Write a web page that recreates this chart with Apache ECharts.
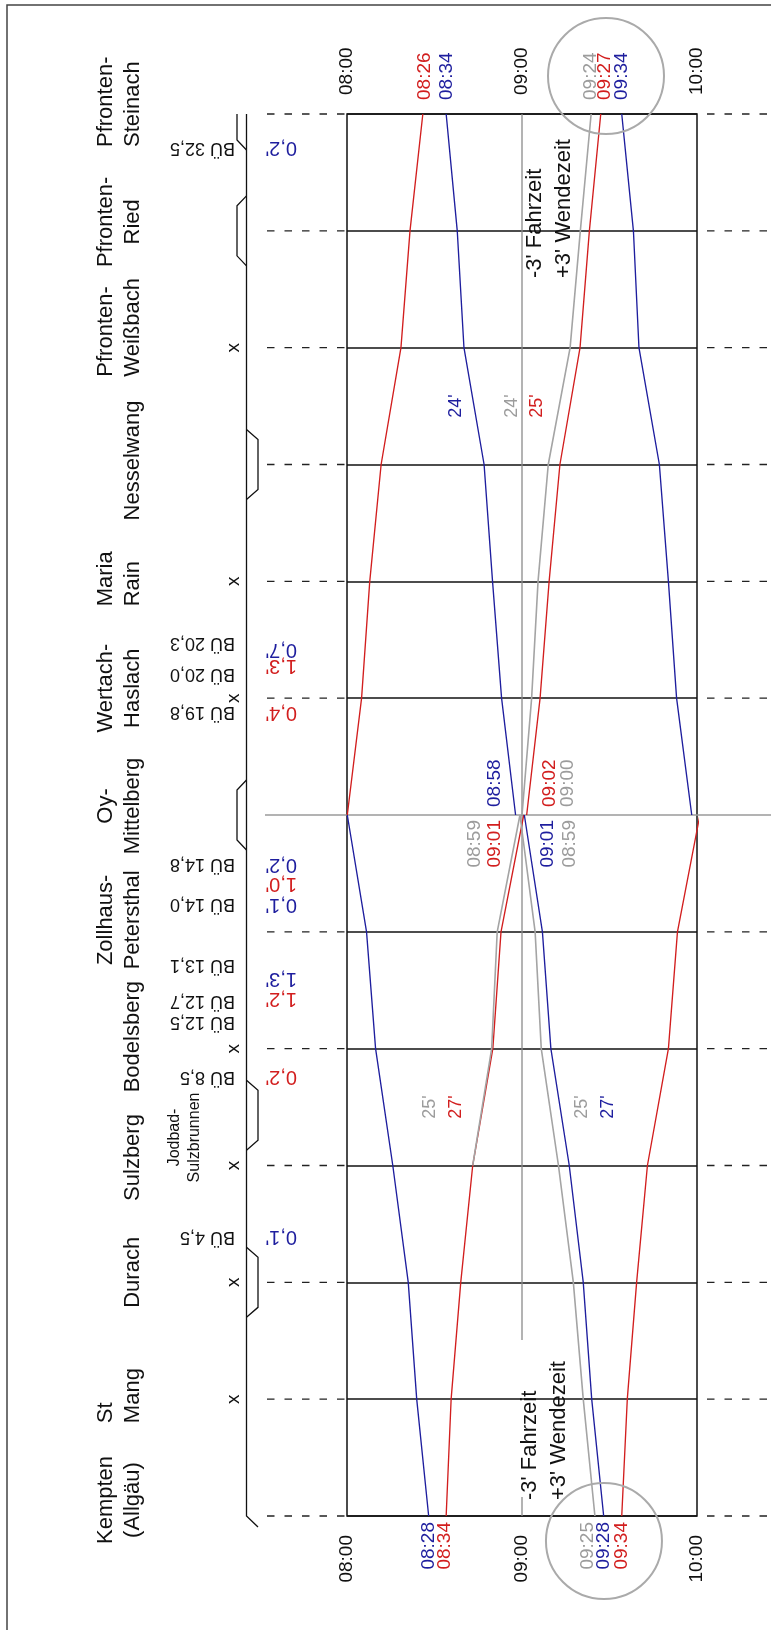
<!DOCTYPE html>
<html><head><meta charset="utf-8">
<script src="https://cdn.jsdelivr.net/npm/echarts@6/dist/echarts.min.js"></script>
<style>html,body{margin:0;padding:0;background:#fff}#c{width:771px;height:1630px}</style>
</head><body><div id="c"></div>
<script>
// ---------------- data ----------------
const stations = ['Kempten (Allgäu)','St Mang','Durach','Sulzberg','Bodelsberg','Zollhaus-Petersthal',
  'Oy-Mittelberg','Wertach-Haslach','Maria Rain','Nesselwang','Pfronten-Weißbach','Pfronten-Ried','Pfronten-Steinach'];
const stationLines = [['Kempten','(Allgäu)'],['St','Mang'],['Durach'],['Sulzberg'],['Bodelsberg'],['Zollhaus-','Petersthal'],
  ['Oy-','Mittelberg'],['Wertach-','Haslach'],['Maria','Rain'],['Nesselwang'],['Pfronten-','Weißbach'],['Pfronten-','Ried'],['Pfronten-','Steinach']];
const timeTicks = [480, 540, 600];            // 08:00 09:00 10:00 (minutes)
// station order of the two halves
const upperStations = [6,7,8,9,10,11,12];     // Oy-Mittelberg ... Pfronten-Steinach
const lowerStations = [6,5,4,3,2,1,0];        // Oy-Mittelberg ... Kempten
// times (minutes after midnight) at each station of the half, in the order above
const redA  = [480.1,485.0,487.8,491.7,498.5,501.6,506.0];
const blueB = [537.8,533.0,529.9,527.0,520.1,517.8,514.0];
const greyU = [540.0,543.3,545.5,549.0,556.5,560.0,563.7];
const redC  = [541.6,546.2,549.3,553.0,559.9,563.1,567.0];
const blueD = [598.2,593.0,590.2,587.1,580.1,578.2,574.2];
const blueE = [480.1,486.7,489.8,495.7,501.0,503.9,508.0];
const redF  = [540.6,532.8,530.0,523.1,519.0,515.7,514.0];
const greyF = [539.3,531.5,529.6,523.1];      // Oy ... Sulzberg
const greyG = [539.3,544.5,546.6,552.5,557.6,561.0,565.0];
const blueG = [540.8,547.0,549.9,556.2,561.0,563.9,568.0];
const redH  = [601.0,593.3,590.2,583.0,579.3,576.1,574.2];
// level crossings (BÜ) : label, station-scale position
const bueLabels = ['BÜ 32,5','BÜ 20,3','BÜ 20,0','BÜ 19,8','BÜ 14,8','BÜ 14,0','BÜ 13,1','BÜ 12,7','BÜ 12,5','BÜ 8,5','BÜ 4,5'];
const buePos    = [11.71,7.47,7.21,6.88,5.58,5.24,4.72,4.41,4.23,3.76,2.39];
const slowLabels = ['0,2\'','0,7\'','1,3\'','0,4\'','0,2\'','1,0\'','0,1\'','1,3\'','1,2\'','0,2\'','0,1\''];
const slowColor  = ['b','b','r','r','b','r','b','b','r','r','b'];
const slowPos    = [11.71,7.42,7.28,6.88,5.58,5.41,5.23,4.60,4.43,3.76,2.39];
const crossStations = [10,8,7,4,3,2,1];       // stations marked with x
const leftLoops = [11,6], rightLoops = [9,3.43,2];

// ---------------- style ----------------
const RED='#d21e1e', BLUE='#1e1e9e', GREY='#a4a4a4', GREYT='#9c9c9c';
const FONT='"Liberation Sans", Arial, Helvetica, sans-serif';
const fmt = v => { const h=Math.floor(v/60), m=Math.round(v%60); return String(h).padStart(2,'0')+':'+String(m).padStart(2,'0'); };

const chart = echarts.init(document.getElementById('c'));
function trainSeries(st, times, color, z, w){
  return {type:'line', data: times.map((t,i)=>[t, st[i]]), symbol:'none', silent:true, z:z,
          lineStyle:{color:color, width:w||1.35}, clip:true, animation:false};
}
const splitColors = stations.map((s,i)=> i===6 ? 'rgba(0,0,0,0)' : '#111');
const xAxisBase = {type:'value', min:480, max:600, interval:60, axisLine:{show:false}, axisTick:{show:false}, splitLine:{show:false}};
chart.setOption({
  animation:false, backgroundColor:'#fff',
  grid:{left:347, right:74, top:114, bottom:114, show:true, borderColor:'#111', borderWidth:1.5, backgroundColor:'rgba(0,0,0,0)'},
  xAxis:[Object.assign({position:'bottom', axisLabel:{rotate:90, margin:19, fontSize:19, color:'#111', fontFamily:FONT, formatter:fmt}}, xAxisBase),
         Object.assign({position:'top', axisLabel:{show:false}}, xAxisBase)],
  yAxis:{type:'value', min:0, max:12, interval:1, axisLine:{show:false}, axisTick:{show:false}, axisLabel:{show:false},
         splitLine:{show:true, lineStyle:{color:splitColors, width:1.5}}},
  series:[
    {type:'line', data:[[540,12],[540,1.506]], symbol:'none', silent:true, z:1, lineStyle:{color:'#8a8a8a', width:1.3}},
    {type:'line', data:[[540,0.163],[540,0]], symbol:'none', silent:true, z:1, lineStyle:{color:'#8a8a8a', width:1.3}},
    trainSeries(upperStations, redA, RED, 3),
    trainSeries(upperStations, blueB, BLUE, 3),
    trainSeries(upperStations, redC, RED, 3),
    trainSeries(upperStations, blueD, BLUE, 3),
    trainSeries(upperStations, greyU, GREY, 4, 1.6),
    trainSeries(lowerStations, blueE, BLUE, 3),
    trainSeries(lowerStations, redF, RED, 3),
    trainSeries(lowerStations, blueG, BLUE, 3),
    trainSeries(lowerStations, redH, RED, 3),
    trainSeries(lowerStations, greyG, GREY, 4, 1.6),
    trainSeries(lowerStations.slice(0,4), greyF, GREY, 4, 1.6)
  ]
});

// ---------------- annotations placed through the axes ----------------
const X = t => chart.convertToPixel({xAxisIndex:0}, t);
const Y = s => chart.convertToPixel({yAxisIndex:0}, s);
const g = [];
function txt(x, y, text, o){
  g.push({type:'text', x:x, y:y, rotation:o.rot||0, silent:true, z:o.z||60,
    style:{text:text, fill:o.color||'#111', font:(o.weight||'normal')+' '+o.size+'px '+FONT,
      align:o.align||'center', verticalAlign:o.va||'middle', textAlign:o.align||'center', textVerticalAlign:o.va||'middle',
      lineHeight:o.lh||o.size*1.2}});
}
function seg(pts, o){
  g.push({type:'polyline', silent:true, z:o.z||5, shape:{points:pts},
    style:{stroke:o.color||'#111', lineWidth:o.w||1.3, fill:null, lineDash:o.dash||null}});
}
const R90 = Math.PI/2, R180 = Math.PI;
const yTop = Y(12), yBot = Y(0);

// top time scale (same ticks as the bottom axis)
timeTicks.forEach(t=> txt(X(t), yTop-19, fmt(t), {size:19, rot:R90, align:'left'}));

// outer frame (top & left)
seg([[7,1630],[7,5],[771,5]], {color:'#444', w:1.5});

// station line extensions
stations.forEach((s,i)=>{
  const y = Y(i);
  if(i===6){ seg([[265,y],[771,y]], {color:'#9a9a9a', w:1.6, z:1}); }
  else {
    seg([[267,y],[345,y]], {color:'#222', w:1.3, dash:[7.5,10]});
    seg([[707,y],[771,y]], {color:'#222', w:1.3, dash:[7.5,10]});
  }
});

// track schematic
const xm = 246.5, xl = 237, xr = 258;
seg([[xm,yTop],[xm,yBot],[xr,yBot+11]], {});
seg([[xl,yTop],[xl,yTop+26],[xm,yTop+36]], {});
leftLoops.forEach(s=>{ const c=Y(s); seg([[xm,c-35],[xl,c-25],[xl,c+25],[xm,c+35]], {}); });
rightLoops.forEach(s=>{ const c=Y(s); seg([[xm,c-35],[xr,c-25],[xr,c+25],[xm,c+35]], {}); });
crossStations.forEach(s=> txt(233.5, Y(s), 'x', {size:19, rot:R90}));

// station names
const nameLayout = [['center',-16],['left',24],['center',-10],['center',-8],['center',-12],['center',-12],
  ['center',-9],['center',-10],['left',25],['center',-4],['left',29],['center',-9],['left',33]];
stationLines.forEach((ls,i)=>{
  txt(145.8, Y(i)+nameLayout[i][1], ls.join('\n'), {size:22, rot:R90, align:nameLayout[i][0], va:'bottom', lh:26.5});
});
txt(204.5, Y(3.24), 'Jodbad-\nSulzbrunnen', {size:16, rot:R90, va:'bottom', lh:20});

// BÜ and slow-down labels (upside down)
bueLabels.forEach((b,i)=> txt(235, Y(buePos[i]), b, {size:18, rot:R180, align:'left'}));
slowLabels.forEach((b,i)=> txt(297, Y(slowPos[i]), b, {size:20, rot:R180, align:'left', color: slowColor[i]==='r'?RED:BLUE}));

// times at the ends
const endTop = [[redA[6],'08:26',RED,2],[blueB[6],'08:34',BLUE,1],[greyU[6],'09:24',GREYT,0],[redC[6],'09:27',RED,4],[blueD[6],'09:34',BLUE,0]];
endTop.forEach(e=> txt(X(e[0])+e[3], yTop-14, e[1], {size:19, rot:R90, align:'left', color:e[2]}));
const endBot = [[blueE[6],'08:28',BLUE,0],[redF[6],'08:34',RED,-1],[greyG[6],'09:25',GREYT,-7],[blueG[6],'09:28',BLUE,0],[redH[6],'09:34',RED,0]];
endBot.forEach(e=> txt(X(e[0])+e[3], yBot+6, e[1], {size:19, rot:R90, align:'right', color:e[2]}));
// times at Oy-Mittelberg
const yOy = Y(6);
[[530.6,'08:58',BLUE],[549.4,'09:02',RED],[555.8,'09:00',GREYT]].forEach(e=> txt(X(e[0]), yOy-8, e[1], {size:19, rot:R90, align:'left', color:e[2]}));
[[523.7,'08:59',GREYT],[530.6,'09:01',RED],[548.7,'09:01',BLUE],[556.3,'08:59',GREYT]].forEach(e=> txt(X(e[0]), yOy+5, e[1], {size:19, rot:R90, align:'right', color:e[2]}));

// running times
[[517.4,9.5,"24'",BLUE],[536.6,9.5,"24'",GREYT],[545.1,9.5,"25'",RED],
 [508.5,3.5,"25'",GREYT],[517.4,3.5,"27'",RED],[560.6,3.5,"25'",GREYT],[569.5,3.5,"27'",BLUE]]
 .forEach(e=> txt(X(e[0]), Y(e[1]), e[2], {size:18, rot:R90, color:e[3]}));

// notes
txt(X(540)-1.5, yTop+164, "-3' Fahrzeit\n+3' Wendezeit", {size:22, rot:R90, align:'left', va:'top', lh:29});
txt(X(540)-6.5, yBot-16, "-3' Fahrzeit\n+3' Wendezeit", {size:22, rot:R90, align:'left', va:'top', lh:29});

// circles
g.push({type:'circle', silent:true, z:55, shape:{cx:X(568.8), cy:yTop-38, r:58}, style:{fill:null, stroke:'#aaaaaa', lineWidth:2}});
g.push({type:'circle', silent:true, z:55, shape:{cx:X(568.1), cy:yBot+25, r:58}, style:{fill:null, stroke:'#aaaaaa', lineWidth:2}});

chart.setOption({graphic:{elements:g}});
</script></body></html>
